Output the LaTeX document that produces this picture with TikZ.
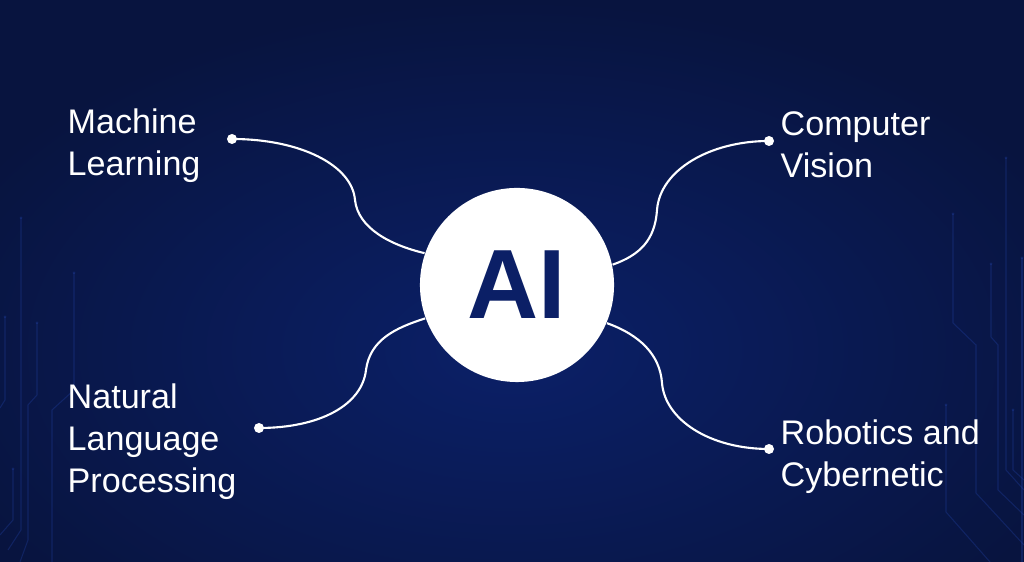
\documentclass[tikz,border=0pt]{standalone}
\usepackage{fontspec}
\setmainfont{Liberation Sans}
\usetikzlibrary{positioning}
\definecolor{bgdark}{HTML}{08143F}
\definecolor{bglight}{HTML}{0B2068}
\definecolor{aiblue}{HTML}{0B1F66}
\definecolor{tracecol}{HTML}{2446B0}
\tikzset{%
	hub/.style     = {circle, fill=white, minimum size=1.94cm, inner sep=0pt, text=aiblue, font=\bfseries\fontsize{28}{28}\selectfont}, % centre disc
	topic/.style   = {align=left, inner sep=0pt, text=white, font=\fontsize{9.7}{11.9}\selectfont}, % labels
	enddot/.style  = {circle, fill=white, minimum size=0.1cm, inner sep=0pt}, % line ends
	link/.style    = {white, line width=0.6pt},
	trace/.style   = {tracecol, line width=0.3pt, opacity=0.3}
}

\begin{document}
\begin{tikzpicture}[x=0.01cm, y=-0.01cm]
	\useasboundingbox (0,0) rectangle (1024,562);
	% Background with a lighter middle
	\begin{scope}
		\clip (0,0) rectangle (1024,562);
		\fill[bgdark] (0,0) rectangle (1024,562);
		\shade[inner color=bglight, outer color=bgdark] (-100,0) rectangle (1124,700);
	\end{scope}

	% Faint circuit traces on both sides
	\draw[trace] (21,218) -- (21,530) -- (8,550);
	\draw[trace] (5,317) -- (5,400) -- (0,408);
	\draw[trace] (37,323) -- (37,395) -- (28,405) -- (28,540) -- (20,562);
	\draw[trace] (74,273) -- (74,390) -- (52,410) -- (52,562);
	\draw[trace] (13,469) -- (13,520) -- (0,535);
	\draw[trace] (953,214) -- (953,323) -- (976,345) -- (976,493) -- (1024,545);
	\draw[trace] (991,264) -- (991,337) -- (998,345) -- (998,490) -- (1024,515);
	\draw[trace] (1006,158) -- (1006,470) -- (1024,490);
	\draw[trace] (1022,258) -- (1022,562);
	\draw[trace] (946,405) -- (946,512) -- (990,562);
	\draw[trace] (1013,410) -- (1013,470) -- (1024,480);
	\foreach \p in {(21,218),(5,317),(37,323),(74,273),(13,469),(953,214),(991,264),(1006,158),(1022,258),(946,405),(1013,410)}
		\fill[trace] \p circle (1.5);

	% Hub and the four topics
	\node[hub] (ai) at (517,285) {AI};

	\node[enddot] (mldot) at (232,139) {};
	\node[enddot] (cvdot) at (769,141) {};
	\node[enddot] (nlpdot) at (259,428) {};
	\node[enddot] (rcdot) at (769,449) {};

	\node[topic, anchor=north west] (ml) at (67,108) {Machine\\Learning};
	\node[topic, anchor=north west] (cv) at (780,111) {Computer\\Vision};
	\node[topic, anchor=north west] (nlp) at (67,383) {Natural\\Language\\Processing};
	\node[topic, anchor=north west] (rc) at (780,419) {Robotics and\\Cybernetic};

	% Curved links from each dot to the hub
	\draw[link] (mldot.center) .. controls (300,139) and (352,165) .. (355,200) .. controls (358,228) and (390,245) .. (ai.161);
	\draw[link] (cvdot.center) .. controls (710,141) and (660,170) .. (657,210) .. controls (655,240) and (640,255) .. (ai.12);
	\draw[link] (nlpdot.center) .. controls (320,428) and (362,405) .. (366,370) .. controls (370,340) and (395,328) .. (ai.200);
	\draw[link] (ai.337) .. controls (640,335) and (660,355) .. (662,383) .. controls (665,420) and (710,449) .. (rcdot.center);
\end{tikzpicture}
\end{document}
